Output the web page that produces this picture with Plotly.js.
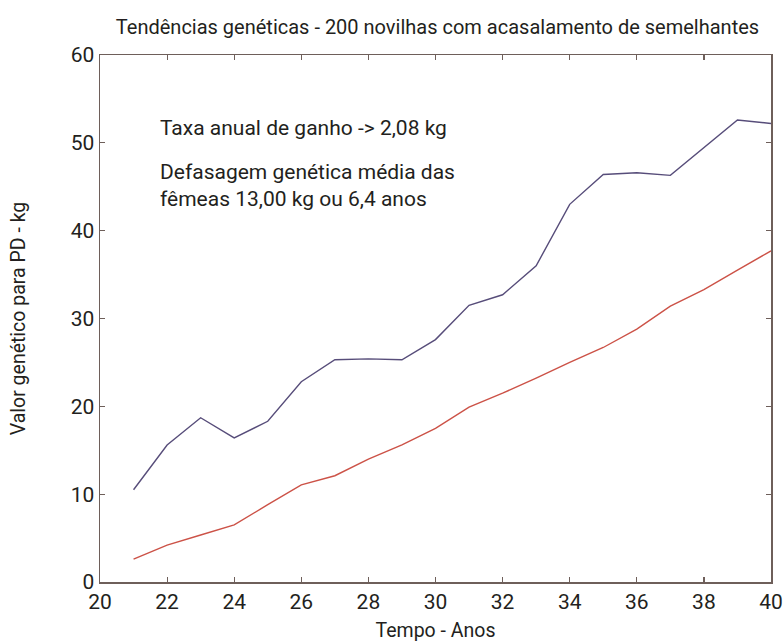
<!DOCTYPE html>
<html>
<head>
<meta charset="utf-8">
<script src="https://cdn.plot.ly/plotly-3.0.1.min.js"></script>
<style>html,body{margin:0;padding:0;background:#fff;}#chart{width:784px;height:642px;}</style>
</head>
<body>
<div id="chart"></div>
<script>
const anos = [21,22,23,24,25,26,27,28,29,30,31,32,33,34,35,36,37,38,39,40];
const machos = [10.5,15.6,18.7,16.4,18.3,22.8,25.3,25.4,25.3,27.6,31.5,32.7,36.0,43.0,46.4,46.6,46.3,49.5,52.6,52.2];
const femeas = [2.6,4.2,5.35,6.5,8.8,11.05,12.1,14.0,15.6,17.5,19.9,21.5,23.2,25.0,26.7,28.8,31.4,33.3,35.5,37.7];
const xTicks = [20,22,24,26,28,30,32,34,36,38,40];
const yTicks = [0,10,20,30,40,50,60];
const anotacoes = ["Taxa anual de ganho -> 2,08 kg", "Defasagem genética média das<br>fêmeas 13,00 kg ou 6,4 anos"];

const FONT = '"Roboto", "Liberation Sans", sans-serif';
const axisColor = '#6e5f5a';
const txt = '#231f20';

const traces = [
  {x: anos, y: machos, type: 'scatter', mode: 'lines', line: {color: '#574d7a', width: 1.4}, showlegend: false},
  {x: anos, y: femeas, type: 'scatter', mode: 'lines', line: {color: '#cc5247', width: 1.4}, showlegend: false}
];

const layout = {
  width: 784, height: 642,
  margin: {l: 100, r: 13, t: 55, b: 60},
  paper_bgcolor: '#fff', plot_bgcolor: '#fff',
  font: {family: FONT, color: txt, size: 20},
  title: {text: 'Tendências genéticas - 200 novilhas com acasalamento de semelhantes', font: {family: FONT, size: 20, color: txt}, x: 0.558, xanchor: 'center', y: 0.958, yanchor: 'middle'},
  xaxis: {
    range: [20, 40], tickvals: xTicks, ticktext: xTicks.map(String),
    ticks: 'inside', ticklen: 5, tickcolor: axisColor, tickwidth: 1.2,
    showline: true, linecolor: axisColor, linewidth: 1.5, mirror: 'ticks',
    showgrid: false, zeroline: false,
    tickfont: {family: FONT, size: 21, color: txt},
    title: {text: 'Tempo - Anos', font: {family: FONT, size: 19.5, color: txt}, standoff: 10}
  },
  yaxis: {
    range: [0, 60], tickvals: yTicks, ticktext: yTicks.map(String),
    ticks: 'inside', ticklen: 5, tickcolor: axisColor, tickwidth: 1.2,
    showline: true, linecolor: axisColor, linewidth: 1.5, mirror: 'ticks',
    showgrid: false, zeroline: false,
    tickfont: {family: FONT, size: 21, color: txt},
    title: {text: 'Valor genético para PD - kg', font: {family: FONT, size: 19.5, color: txt}, standoff: 40}
  },
  annotations: [
    {text: anotacoes[0], xref: 'paper', yref: 'paper', x: 0.087, y: 0.862, xanchor: 'left', yanchor: 'middle', showarrow: false, align: 'left', font: {family: FONT, size: 21, color: txt}},
    {text: anotacoes[1], xref: 'paper', yref: 'paper', x: 0.087, y: 0.753, xanchor: 'left', yanchor: 'middle', showarrow: false, align: 'left', font: {family: FONT, size: 21, color: txt}}
  ]
};

Plotly.newPlot('chart', traces, layout, {staticPlot: true, displayModeBar: false});
</script>
</body>
</html>
